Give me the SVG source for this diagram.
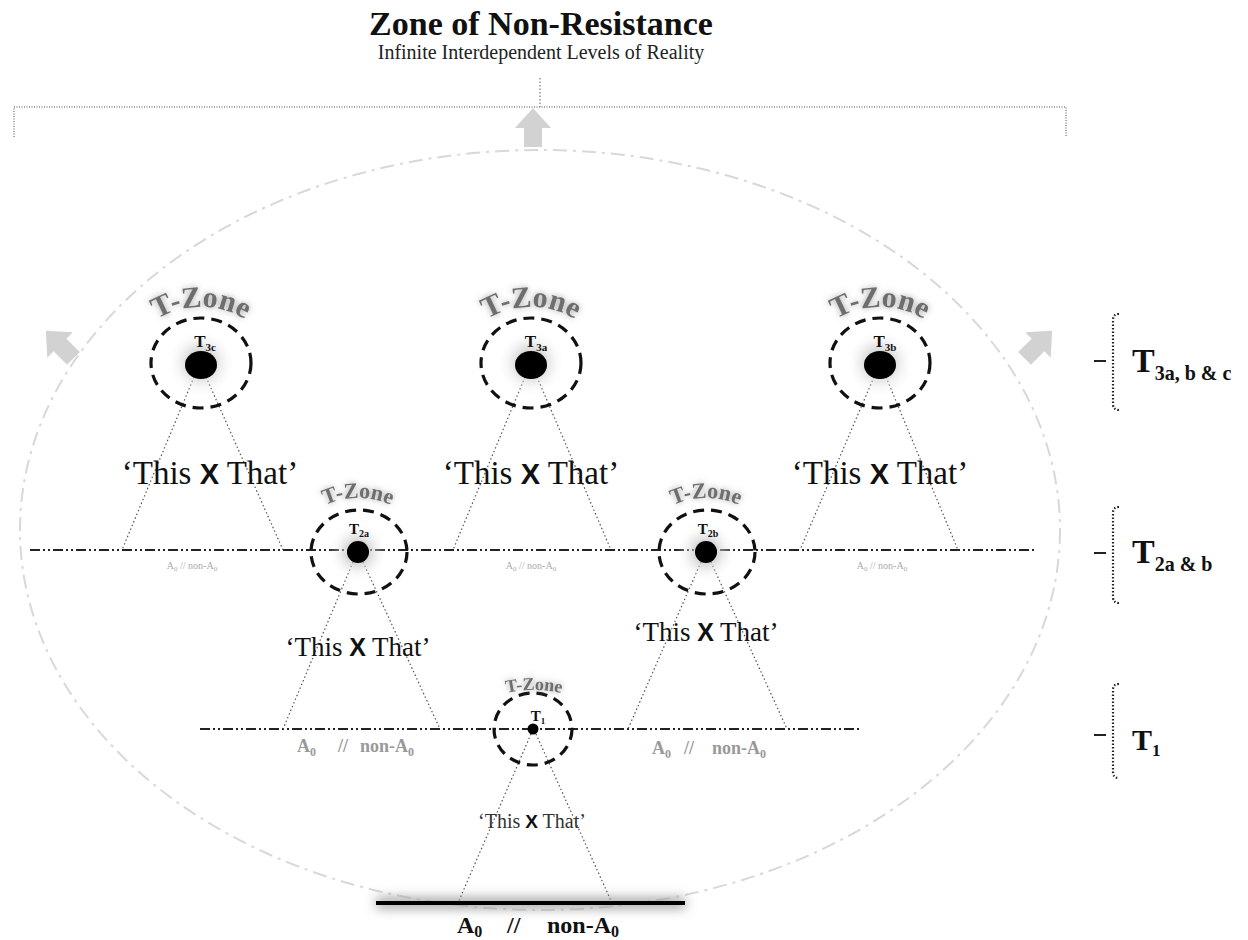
<svg xmlns="http://www.w3.org/2000/svg" width="1248" height="940" viewBox="0 0 1248 940">
<defs>
<style>
.serif{font-family:"Liberation Serif","Times New Roman",serif}
.sans{font-family:"Liberation Sans",Arial,sans-serif}
.dot{fill:none;stroke:#555;stroke-width:1.2;stroke-dasharray:1.5 2.5}
.tline{fill:none;stroke:#222;stroke-width:2;stroke-dasharray:10 3 2 3 2 3}
.tz{fill:none;stroke:#111;stroke-width:3.2;stroke-dasharray:11 7}
.brk{fill:none;stroke:#222;stroke-width:2.2;stroke-dasharray:1.5 2}
.tzone{font-family:"Liberation Serif","Times New Roman",serif;font-weight:bold;fill:#6e6e6e}
.small{font-family:"Liberation Serif","Times New Roman",serif;fill:#aaa;font-size:10px}
.mid{font-family:"Liberation Serif","Times New Roman",serif;fill:#999;font-size:18px;font-weight:bold}
.grayarrow{fill:#d2d2d2}
</style>
<filter id="glow" x="-30%" y="-50%" width="160%" height="200%">
<feGaussianBlur in="SourceAlpha" stdDeviation="3" result="b"/>
<feFlood flood-color="#888" flood-opacity="0.8"/>
<feComposite in2="b" operator="in" result="s"/>
<feMerge><feMergeNode in="s"/><feMergeNode in="SourceGraphic"/></feMerge>
</filter>
<filter id="soft" x="-20%" y="-300%" width="140%" height="700%">
<feGaussianBlur stdDeviation="6"/>
</filter>
<radialGradient id="halo">
<stop offset="0" stop-color="#999" stop-opacity="0.9"/>
<stop offset="0.5" stop-color="#ccc" stop-opacity="0.5"/>
<stop offset="1" stop-color="#fff" stop-opacity="0"/>
</radialGradient>
<path id="arcL" d="M-79.9,55.9 A85,85 0 0 1 79.9,55.9"/>
<path id="arcM" d="M-75.2,52.6 A80,80 0 0 1 75.2,52.6"/>
<path id="arcS" d="M-112.6,65 A130,130 0 0 1 112.6,65"/>
<polygon id="arrowUp" points="0,-20 18,0 9,0 9,19 -9,19 -9,0 -18,0"/>
</defs>
<rect width="1248" height="940" fill="#fff"/>

<g id="title">
<text class="serif" x="541" y="35" font-size="34" font-weight="bold" text-anchor="middle" fill="#111">Zone of Non-Resistance</text>
<text class="serif" x="541" y="59" font-size="20" text-anchor="middle" fill="#222">Infinite Interdependent Levels of Reality</text>
</g>

<g id="top-bracket">
<path d="M540,78 V107" fill="none" stroke="#777" stroke-width="1.2" stroke-dasharray="1.5 2"/>
<path d="M14,137 V107 H1066 V137" fill="none" stroke="#888" stroke-width="1.5" stroke-dasharray="1 1.5"/>
<use href="#arrowUp" class="grayarrow" transform="translate(533,128)"/>
</g>

<g id="outer-ellipse">
<ellipse cx="540" cy="530" rx="520" ry="380" fill="none" stroke="#d8d8d8" stroke-width="2" stroke-dasharray="14 6 3 6"/>
<use href="#arrowUp" class="grayarrow" transform="translate(60,345) rotate(-45)"/>
<use href="#arrowUp" class="grayarrow" transform="translate(1038,345) rotate(45)"/>
</g>

<g id="connectors">
<path class="tline" d="M30,550 H1036"/>
<path class="tline" d="M200,729 H862"/>
<path class="dot" d="M194,377 L122,550 M206,377 L283,550"/>
<path class="dot" d="M525,377 L453,550 M537,377 L611,550"/>
<path class="dot" d="M874,377 L800,550 M886,377 L958,550"/>
<path class="dot" d="M353,562 L283,729 M363,562 L440,729"/>
<path class="dot" d="M701,562 L628,729 M711,562 L787,729"/>
<path class="dot" d="M531,734 L458,903 M536,734 L612,903"/>
</g>

<g id="labels-t3">
<text class="serif" x="210" y="484" font-size="33" text-anchor="middle" fill="#111">‘This <tspan class="sans" font-weight="bold" font-size="29">X</tspan> That’</text>
<text class="serif" x="531" y="484" font-size="33" text-anchor="middle" fill="#111">‘This <tspan class="sans" font-weight="bold" font-size="29">X</tspan> That’</text>
<text class="serif" x="880" y="484" font-size="33" text-anchor="middle" fill="#111">‘This <tspan class="sans" font-weight="bold" font-size="29">X</tspan> That’</text>
<text class="small" x="192" y="569" text-anchor="middle">A<tspan font-size="7" dy="2">0</tspan><tspan dy="-2">  //  non-A</tspan><tspan font-size="7" dy="2">0</tspan></text>
<text class="small" x="531" y="569" text-anchor="middle">A<tspan font-size="7" dy="2">0</tspan><tspan dy="-2">  //  non-A</tspan><tspan font-size="7" dy="2">0</tspan></text>
<text class="small" x="882" y="569" text-anchor="middle">A<tspan font-size="7" dy="2">0</tspan><tspan dy="-2">  //  non-A</tspan><tspan font-size="7" dy="2">0</tspan></text>
</g>

<g id="node-t3c">
<circle cx="201" cy="363" r="34" fill="url(#halo)"/>
<ellipse cx="201" cy="363" rx="50" ry="45" class="tz"/>
<ellipse cx="201" cy="365" rx="16" ry="14" fill="#000"/>
<text class="serif" x="205" y="347" font-size="17" font-weight="bold" text-anchor="middle" fill="#111">T<tspan font-size="11" dy="4">3c</tspan></text>
<text class="tzone" font-size="30" transform="translate(201,307)" filter="url(#glow)"><textPath href="#arcL" startOffset="50%" text-anchor="middle">T-Zone</textPath></text>
</g>
<g id="node-t3a">
<circle cx="531" cy="363" r="34" fill="url(#halo)"/>
<ellipse cx="531" cy="363" rx="50" ry="45" class="tz"/>
<ellipse cx="531" cy="365" rx="16" ry="14" fill="#000"/>
<text class="serif" x="536" y="347" font-size="17" font-weight="bold" text-anchor="middle" fill="#111">T<tspan font-size="11" dy="4">3a</tspan></text>
<text class="tzone" font-size="30" transform="translate(531,307)" filter="url(#glow)"><textPath href="#arcL" startOffset="50%" text-anchor="middle">T-Zone</textPath></text>
</g>
<g id="node-t3b">
<circle cx="880" cy="363" r="34" fill="url(#halo)"/>
<ellipse cx="880" cy="363" rx="50" ry="45" class="tz"/>
<ellipse cx="880" cy="365" rx="16" ry="14" fill="#000"/>
<text class="serif" x="885" y="347" font-size="17" font-weight="bold" text-anchor="middle" fill="#111">T<tspan font-size="11" dy="4">3b</tspan></text>
<text class="tzone" font-size="30" transform="translate(880,307)" filter="url(#glow)"><textPath href="#arcL" startOffset="50%" text-anchor="middle">T-Zone</textPath></text>
</g>

<g id="node-t2a">
<circle cx="358" cy="552" r="30" fill="url(#halo)"/>
<ellipse cx="359" cy="552" rx="48" ry="42" class="tz"/>
<circle cx="358" cy="552" r="11" fill="#000"/>
<text class="serif" x="359" y="534" font-size="15" font-weight="bold" text-anchor="middle" fill="#111">T<tspan font-size="10" dy="3">2a</tspan></text>
<text class="tzone" font-size="22" transform="translate(358,498)" filter="url(#glow)"><textPath href="#arcM" startOffset="50%" text-anchor="middle">T-Zone</textPath></text>
</g>
<g id="node-t2b">
<circle cx="706" cy="552" r="30" fill="url(#halo)"/>
<ellipse cx="707" cy="552" rx="48" ry="42" class="tz"/>
<circle cx="706" cy="552" r="11" fill="#000"/>
<text class="serif" x="708" y="534" font-size="15" font-weight="bold" text-anchor="middle" fill="#111">T<tspan font-size="10" dy="3">2b</tspan></text>
<text class="tzone" font-size="22" transform="translate(706,498)" filter="url(#glow)"><textPath href="#arcM" startOffset="50%" text-anchor="middle">T-Zone</textPath></text>
</g>

<g id="labels-t2">
<text class="serif" x="358" y="656" font-size="27" text-anchor="middle" fill="#111">‘This <tspan class="sans" font-weight="bold" font-size="25">X</tspan> That’</text>
<text class="serif" x="706" y="641" font-size="27" text-anchor="middle" fill="#111">‘This <tspan class="sans" font-weight="bold" font-size="25">X</tspan> That’</text>
<text class="mid" y="752"><tspan x="297">A</tspan><tspan font-size="12" dy="4">0</tspan><tspan x="338" dy="-4">//</tspan><tspan x="360">non-A</tspan><tspan font-size="12" dy="4">0</tspan></text>
<text class="mid" y="754"><tspan x="652">A</tspan><tspan font-size="12" dy="4">0</tspan><tspan x="684" dy="-4">//</tspan><tspan x="712">non-A</tspan><tspan font-size="12" dy="4">0</tspan></text>
</g>

<g id="node-t1">
<ellipse cx="533" cy="729" rx="39" ry="36" class="tz"/>
<circle cx="533" cy="729" r="5.5" fill="#000"/>
<text class="serif" x="538" y="721" font-size="15" font-weight="bold" text-anchor="middle" fill="#111">T<tspan font-size="9" dy="3">1</tspan></text>
<text class="tzone" font-size="18" transform="translate(534,690)" filter="url(#glow)"><textPath href="#arcS" startOffset="50%" text-anchor="middle">T-Zone</textPath></text>
<text class="serif" x="532" y="828" font-size="20" text-anchor="middle" fill="#333">‘This <tspan class="sans" font-weight="bold" font-size="19" fill="#111">X</tspan> That’</text>
</g>

<g id="base">
<rect x="376" y="898" width="309" height="10" fill="#999" filter="url(#soft)"/>
<rect x="376" y="901" width="309" height="4" fill="#000"/>
<text class="serif" y="933" font-size="24" font-weight="bold" fill="#111"><tspan x="457">A</tspan><tspan font-size="16" dy="4">0</tspan><tspan x="507" dy="-4">//</tspan><tspan x="547">non-A</tspan><tspan font-size="16" dy="4">0</tspan></text>
</g>

<g id="level-brackets">
<path class="brk" d="M1119,314 Q1113,314 1113,320 V404 Q1113,410 1119,410"/>
<path d="M1094,361 H1106" stroke="#222" stroke-width="2"/>
<text class="serif" x="1132" y="372" font-size="34" font-weight="bold" fill="#111">T<tspan font-size="20" dy="8">3a, b &amp; c</tspan></text>
<path class="brk" d="M1119,507 Q1113,507 1113,513 V597 Q1113,603 1119,603"/>
<path d="M1094,553 H1106" stroke="#222" stroke-width="2"/>
<text class="serif" x="1132" y="563" font-size="34" font-weight="bold" fill="#111">T<tspan font-size="20" dy="8">2a &amp; b</tspan></text>
<path class="brk" d="M1119,684 Q1113,684 1113,690 V772 Q1113,778 1119,778"/>
<path d="M1094,735 H1106" stroke="#222" stroke-width="2"/>
<text class="serif" x="1132" y="750" font-size="30" font-weight="bold" fill="#111">T<tspan font-size="17" dy="6">1</tspan></text>
</g>
</svg>
